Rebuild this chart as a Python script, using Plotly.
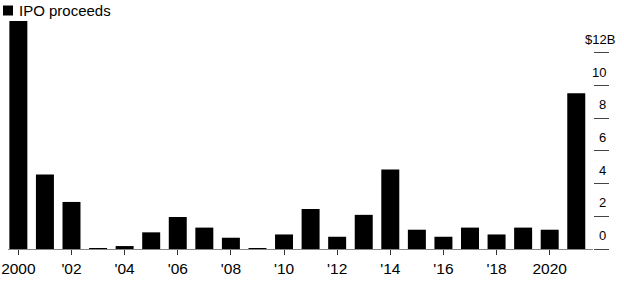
import plotly.graph_objects as go

years = list(range(2000, 2022))
proceeds = [13.95, 4.56, 2.88, 0.06, 0.18, 1.02, 1.96, 1.31, 0.69, 0.05, 0.89,
            2.45, 0.75, 2.09, 4.87, 1.18, 0.75, 1.31, 0.89, 1.31, 1.18, 9.53]
x_tickvals = list(range(2000, 2021, 2))
x_ticktext = ["2000", "'02", "'04", "'06", "'08", "'10", "'12", "'14", "'16", "'18", "2020"]
y_tickvals = [0, 2, 4, 6, 8, 10, 12]
y_ticktext = ["0", "2", "4", "6", "8", "10", "$12B"]
series_name = "IPO proceeds"

W, H = 624, 286
ML, MR, MT, MB = 8, 31, 17, 37
pw, ph = W - ML - MR, H - MT - MB

fig = go.Figure()
fig.add_trace(go.Bar(x=years, y=proceeds, marker=dict(color="#000000", line=dict(width=0)),
                     name=series_name, showlegend=False))

font = "Liberation Sans, Arial, sans-serif"

def px_x(p):
    return (p - ML) / pw

def px_y(p):
    return (H - MB - p) / ph

shapes = [dict(type="rect", xref="paper", yref="paper",
               x0=px_x(3), x1=px_x(13), y0=px_y(15.5), y1=px_y(5.5),
               fillcolor="#000000", line=dict(width=0))]

annotations = [dict(text=series_name, xref="paper", yref="paper", x=px_x(16.5), y=px_y(10.5),
                    xanchor="left", yanchor="middle", showarrow=False,
                    font=dict(family=font, size=15, color="#000000"))]

for v, t in zip(y_tickvals, y_ticktext):
    shift = 8.7 if t.endswith("B") else 0
    annotations.append(dict(text=t, xref="paper", yref="y", x=px_x(608), y=v,
                            xanchor="right", yanchor="middle", xshift=shift, yshift=13.5,
                            showarrow=False, font=dict(family=font, size=13, color="#000000")))

fig.update_layout(
    width=W, height=H,
    margin=dict(l=ML, r=MR, t=MT, b=MB, pad=0, autoexpand=False),
    paper_bgcolor="white", plot_bgcolor="white",
    bargap=0.323,
    shapes=shapes, annotations=annotations,
    xaxis=dict(range=[1999.61, 2021.63], tickmode="array", tickvals=x_tickvals, ticktext=x_ticktext,
               ticks="outside", ticklen=5, tickwidth=1, tickcolor="#333333", automargin=False,
               showline=True, linecolor="#888888", linewidth=1, showgrid=False, zeroline=False,
               tickfont=dict(family=font, size=15.5, color="#000000"), fixedrange=True),
    yaxis=dict(range=[0, 14.2], side="right", tickmode="array", tickvals=y_tickvals,
               ticks="outside", ticklen=15, tickwidth=1, tickcolor="#444444", automargin=False,
               showticklabels=False, showgrid=False, zeroline=False, showline=False, fixedrange=True),
)

fig.write_html("out.html")
